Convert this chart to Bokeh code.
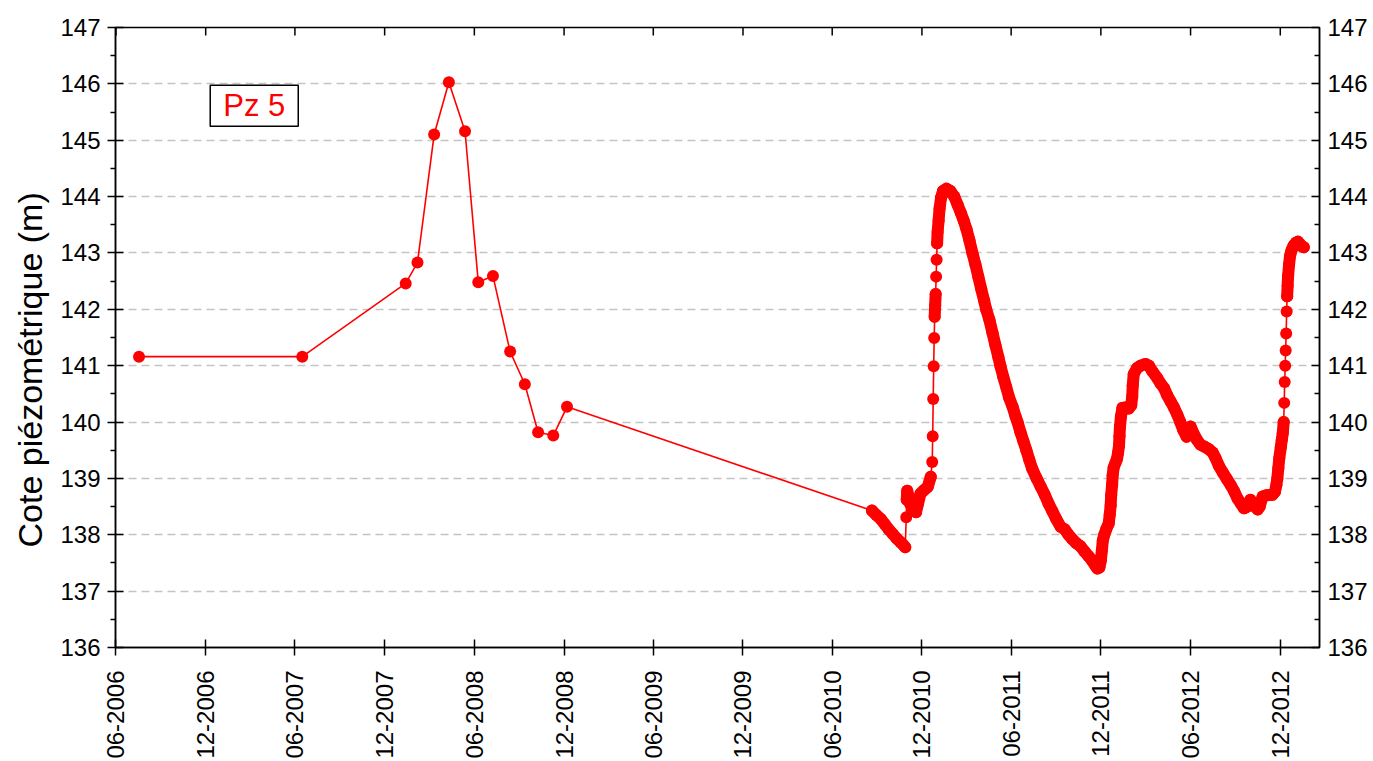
import numpy as np
import pandas as pd
from bokeh.plotting import figure
from bokeh.models import (FixedTicker, LinearAxis, DatetimeTickFormatter,
                          Range1d, Label, Title, ColumnDataSource)
from bokeh.embed import file_html
from bokeh.resources import INLINE

FONT = "Liberation Sans"
RED = "#ff0000"

# Manual soundings, piezometer Pz 5 (level in m)
manual_dates = [
    "2006-07-18", "2007-06-16", "2008-01-13", "2008-02-06", "2008-03-11",
    "2008-04-10", "2008-05-13", "2008-06-09", "2008-07-09", "2008-08-13",
    "2008-09-12", "2008-10-09", "2008-11-09", "2008-12-07",
]
manual_levels = [
    141.16, 141.16, 142.46, 142.83, 145.10,
    146.03, 145.16, 142.48, 142.59, 141.25,
    140.67, 139.82, 139.76, 140.27,
]

# Data-logger record 2010-2013
logger_dates = [
    "2010-08-21", "2010-08-30", "2010-09-08", "2010-09-16", "2010-09-24",
    "2010-10-02", "2010-10-10", "2010-10-18", "2010-10-24", "2010-10-28",
    "2010-10-30", "2010-10-31", "2010-11-01", "2010-11-03", "2010-11-07",
    "2010-11-13", "2010-11-19", "2010-11-23", "2010-11-28", "2010-12-05",
    "2010-12-13", "2010-12-19", "2010-12-22", "2010-12-23", "2010-12-24",
    "2010-12-25", "2010-12-26", "2010-12-27", "2010-12-28", "2010-12-29",
    "2010-12-30", "2010-12-31", "2011-01-01", "2011-01-02", "2011-01-04",
    "2011-01-06", "2011-01-09", "2011-01-13", "2011-01-20", "2011-01-28",
    "2011-02-05", "2011-02-12", "2011-02-18", "2011-02-24", "2011-03-02",
    "2011-03-08", "2011-03-14", "2011-03-20", "2011-03-26", "2011-04-01",
    "2011-04-07", "2011-04-11", "2011-04-18", "2011-04-24", "2011-04-30",
    "2011-05-06", "2011-05-10", "2011-05-16", "2011-05-22", "2011-05-28",
    "2011-06-04", "2011-06-10", "2011-06-14", "2011-06-20", "2011-06-26",
    "2011-07-02", "2011-07-08", "2011-07-14", "2011-07-23", "2011-07-31",
    "2011-08-08", "2011-08-16", "2011-08-24", "2011-09-01", "2011-09-10",
    "2011-09-18", "2011-09-26", "2011-10-04", "2011-10-12", "2011-10-20",
    "2011-10-29", "2011-11-06", "2011-11-14", "2011-11-20", "2011-11-24",
    "2011-11-28", "2011-12-01", "2011-12-03", "2011-12-05", "2011-12-08",
    "2011-12-12", "2011-12-17", "2011-12-19", "2011-12-21", "2011-12-22",
    "2011-12-24", "2011-12-25", "2011-12-27", "2011-12-31", "2012-01-03",
    "2012-01-05", "2012-01-07", "2012-01-08", "2012-01-09", "2012-01-11",
    "2012-01-14", "2012-01-20", "2012-01-27", "2012-02-01", "2012-02-03",
    "2012-02-04", "2012-02-06", "2012-02-13", "2012-02-20", "2012-03-01",
    "2012-03-08", "2012-03-15", "2012-03-25", "2012-04-01", "2012-04-08",
    "2012-04-14", "2012-04-21", "2012-04-28", "2012-05-05", "2012-05-11",
    "2012-05-17", "2012-05-24", "2012-05-28", "2012-06-01", "2012-06-06",
    "2012-06-13", "2012-06-21", "2012-06-30", "2012-07-08", "2012-07-16",
    "2012-07-22", "2012-07-29", "2012-08-06", "2012-08-14", "2012-08-22",
    "2012-08-29", "2012-09-05", "2012-09-12", "2012-09-18", "2012-09-25",
    "2012-10-01", "2012-10-08", "2012-10-16", "2012-10-20", "2012-10-26",
    "2012-11-03", "2012-11-15", "2012-11-20", "2012-11-23", "2012-11-25",
    "2012-11-27", "2012-11-29", "2012-12-02", "2012-12-04", "2012-12-06",
    "2012-12-08", "2012-12-09", "2012-12-10", "2012-12-11", "2012-12-12",
    "2012-12-13", "2012-12-14", "2012-12-15", "2012-12-16", "2012-12-17",
    "2012-12-19", "2012-12-21", "2012-12-24", "2012-12-28", "2013-01-02",
    "2013-01-06", "2013-01-10", "2013-01-14", "2013-01-18",
]
logger_levels = [
    138.43, 138.35, 138.28, 138.19, 138.10,
    138.02, 137.94, 137.87, 137.82, 137.78,
    138.31, 138.62, 138.78, 138.70, 138.55,
    138.45, 138.40, 138.55, 138.73, 138.79,
    138.85, 139.03, 139.29, 139.75, 140.41,
    140.99, 141.49, 141.87, 142.07, 142.27,
    142.58, 142.88, 143.17, 143.37, 143.57,
    143.79, 143.98, 144.10, 144.14, 144.10,
    144.00, 143.85, 143.72, 143.58, 143.42,
    143.22, 143.00, 142.80, 142.58, 142.36,
    142.15, 142.00, 141.80, 141.58, 141.36,
    141.15, 141.00, 140.80, 140.62, 140.43,
    140.27, 140.10, 140.00, 139.82, 139.66,
    139.50, 139.33, 139.17, 139.00, 138.86,
    138.72, 138.56, 138.42, 138.28, 138.14,
    138.10, 138.00, 137.92, 137.85, 137.80,
    137.70, 137.62, 137.53, 137.45, 137.40,
    137.42, 137.55, 137.72, 137.90, 138.00,
    138.10, 138.20, 138.35, 138.52, 138.70,
    138.89, 139.05, 139.19, 139.28, 139.35,
    139.45, 139.58, 139.75, 139.92, 140.10,
    140.25, 140.26, 140.24, 140.30, 140.45,
    140.65, 140.85, 140.96, 141.00, 141.03,
    141.00, 140.90, 140.78, 140.68, 140.60,
    140.48, 140.37, 140.26, 140.13, 140.00,
    139.86, 139.74, 139.82, 139.92, 139.82,
    139.70, 139.60, 139.56, 139.52, 139.46,
    139.36, 139.22, 139.10, 138.99, 138.88,
    138.77, 138.64, 138.55, 138.47, 138.50,
    138.62, 138.52, 138.45, 138.50, 138.68,
    138.70, 138.71, 138.76, 138.88, 139.00,
    139.18, 139.36, 139.55, 139.68, 139.80,
    140.00, 140.34, 140.71, 141.00, 141.27,
    141.57, 141.96, 142.23, 142.42, 142.60,
    142.80, 142.95, 143.05, 143.13, 143.18,
    143.20, 143.16, 143.12, 143.10,
]

# Axis ticks
x_tick_dates = [
    "2006-06-01", "2006-12-01", "2007-06-01", "2007-12-01", "2008-06-01",
    "2008-12-01", "2009-06-01", "2009-12-01", "2010-06-01", "2010-12-01",
    "2011-06-01", "2011-12-01", "2012-06-01", "2012-12-01",
]
y_ticks = [136, 137, 138, 139, 140, 141, 142, 143, 144, 145, 146, 147]
y_minor_ticks = [136.5, 137.5, 138.5, 139.5, 140.5, 141.5, 142.5, 143.5, 144.5, 145.5, 146.5]
x_limits = ["2006-05-31", "2013-02-19"]
y_limits = [136, 147]
well_name = "Pz 5"
y_title = "Cote piézométrique (m)"


def to_ms(strings):
    return pd.to_datetime(strings).as_unit("ns").asi8 / 1e6


t = to_ms(manual_dates + logger_dates)
h = np.array(manual_levels + logger_levels)
x_ticks = to_ms(x_tick_dates)

p = figure(width=1373, height=761, output_backend="svg", toolbar_location=None,
           x_axis_type="datetime", title=None,
           x_range=Range1d(*to_ms(x_limits)), y_range=Range1d(*y_limits),
           min_border_left=115, min_border_right=54, min_border_top=27, min_border_bottom=114)
p.background_fill_color = "white"
p.border_fill_color = "white"
p.outline_line_color = "black"
p.outline_line_width = 1.5

# horizontal dashed grid only
p.xgrid.visible = False
p.ygrid.ticker = FixedTicker(ticks=y_ticks)
p.ygrid.grid_line_color = "#c4c4c4"
p.ygrid.grid_line_width = 1.5
p.ygrid.grid_line_dash = "8 5"

x_ticker = FixedTicker(ticks=list(x_ticks))
y_ticker = FixedTicker(ticks=y_ticks, minor_ticks=y_minor_ticks)
fmt = "%m-%Y"
x_formatter = DatetimeTickFormatter(microseconds=fmt, milliseconds=fmt, seconds=fmt, minsec=fmt,
                                    minutes=fmt, hourmin=fmt, hours=fmt, days=fmt,
                                    months=fmt, years=fmt)


def style_axis(ax):
    ax.axis_line_color = "black"
    ax.axis_line_width = 1.5
    ax.major_tick_line_color = "black"
    ax.major_tick_line_width = 1.5
    ax.minor_tick_line_color = "black"
    ax.minor_tick_line_width = 1.5
    ax.major_label_text_font = FONT
    ax.major_label_text_font_size = "24px"
    ax.major_label_text_color = "black"


# bottom axis
xb = p.xaxis[0]
xb.ticker = x_ticker
xb.formatter = x_formatter
style_axis(xb)
xb.major_label_orientation = np.pi / 2
xb.major_tick_in = 8
xb.major_tick_out = 8
xb.minor_tick_in = 0
xb.minor_tick_out = 0
xb.major_label_standoff = 15

# left axis
yl = p.yaxis[0]
yl.ticker = y_ticker
style_axis(yl)
yl.major_tick_in = 8
yl.major_tick_out = 8
yl.minor_tick_in = 0
yl.minor_tick_out = 5
yl.major_label_standoff = 7

# right axis
yr = LinearAxis(ticker=y_ticker)
style_axis(yr)
yr.major_tick_in = 8
yr.major_tick_out = 0
yr.minor_tick_in = 5
yr.minor_tick_out = 0
yr.major_label_standoff = 8
p.add_layout(yr, "right")

# inward tick marks along the top edge (the outer half is clipped by the frame)
p.scatter(x=x_ticks, y=[y_limits[1]] * len(x_ticks), marker="dash", angle=np.pi / 2,
          size=16, line_color="black", line_width=1.5)

# vertical axis title
p.add_layout(Title(text=y_title, align="left", offset=100, standoff=14, vertical_align="top",
                   text_font=FONT, text_font_size="34px", text_font_style="normal",
                   text_color="black"), "left")

# dense logger readings merge into a continuous band
band_xs, band_ys = [], []
cur_x, cur_y = [t[0]], [h[0]]
for i in range(1, len(t)):
    close = (t[i] - t[i - 1]) <= 16 * 86400000 and abs(h[i] - h[i - 1]) <= 0.25
    if close:
        cur_x.append(t[i])
        cur_y.append(h[i])
    else:
        if len(cur_x) > 1:
            band_xs.append(cur_x)
            band_ys.append(cur_y)
        cur_x, cur_y = [t[i]], [h[i]]
if len(cur_x) > 1:
    band_xs.append(cur_x)
    band_ys.append(cur_y)

src = ColumnDataSource(dict(t=t, h=h))
p.line("t", "h", source=src, line_color=RED, line_width=1.6)
p.multi_line(band_xs, band_ys, line_color=RED, line_width=12,
             line_join="round", line_cap="round")
p.scatter("t", "h", source=src, size=12, fill_color=RED, line_color=RED, line_width=0)

# well name box
box_x = to_ms(["2007-03-10"])[0]
p.add_layout(Label(x=box_x, y=145.61, text=well_name, text_color=RED, text_font=FONT,
                   text_font_size="31px", text_align="center", text_baseline="middle",
                   border_line_color="black", border_line_width=1.5,
                   background_fill_color="white",
                   padding=dict(left=13, right=13, top=3, bottom=3)))

open("out.html", "w").write(file_html(p, INLINE))
